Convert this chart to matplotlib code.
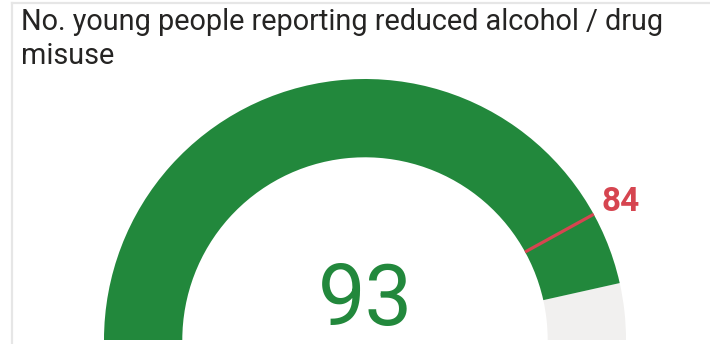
import numpy as np
import matplotlib.pyplot as plt
from matplotlib.patches import Wedge
from matplotlib.lines import Line2D

title = "No. young people reporting reduced alcohol / drug\nmisuse"
value = 93
target = 84
gauge_min = 0
gauge_max = 100

green = '#22883C'
grey = '#F1F0EF'
red = '#D64550'

W, H = 710, 344
fig = plt.figure(figsize=(W / 100, H / 100), dpi=100)
ax = fig.add_axes([0, 0, 1, 1])

# gauge geometry in pixels (outer radius = 1 unit)
R_px = 261.0
cx, cy = 365.0, 340.0
ax.set_xlim(-cx / R_px, (W - cx) / R_px)
ax.set_ylim(-(H - cy) / R_px, cy / R_px)
ax.axis('off')

band = 0.30

def to_angle(v):
    return 180 - 180.0 * (v - gauge_min) / (gauge_max - gauge_min)

a_val = to_angle(value)
ax.add_patch(Wedge((0, 0), 1, 0, a_val, width=band, facecolor=grey, edgecolor='none'))
ax.add_patch(Wedge((0, 0), 1, a_val, 180, width=band, facecolor=green, edgecolor='none'))

# target marker
t = np.radians(to_angle(target))
r_in, r_out = 1 - band, 1.0
ax.plot([r_in * np.cos(t), r_out * np.cos(t)], [r_in * np.sin(t), r_out * np.sin(t)],
        color=red, lw=2.3, solid_capstyle='butt')
ax.annotate(str(target), xy=(r_out * np.cos(t), r_out * np.sin(t)),
            xytext=(5.5, 2.5), textcoords='offset points',
            ha='left', va='baseline', color=red, fontsize=24, fontweight='bold',
            family=['Roboto', 'DejaVu Sans'])

# main value
ax.text(0, 15 / R_px, str(value), ha='center', va='baseline', color=green, fontsize=61,
        family=['Roboto', 'DejaVu Sans'])

# title
fig.text(21 / W, 1 - 8 / H, title, ha='left', va='top', fontsize=20.8,
         color='#252423', linespacing=1.28, family=['Roboto', 'DejaVu Sans'])

# visual border (left + top)
fig.add_artist(Line2D([11.5 / W, 11.5 / W], [0, 1 - 2.5 / H], color='#E6E6E6', lw=1.6))
fig.add_artist(Line2D([11.5 / W, 1], [1 - 2.5 / H, 1 - 2.5 / H], color='#E6E6E6', lw=1.6))

fig.savefig('out.png', dpi=100)
